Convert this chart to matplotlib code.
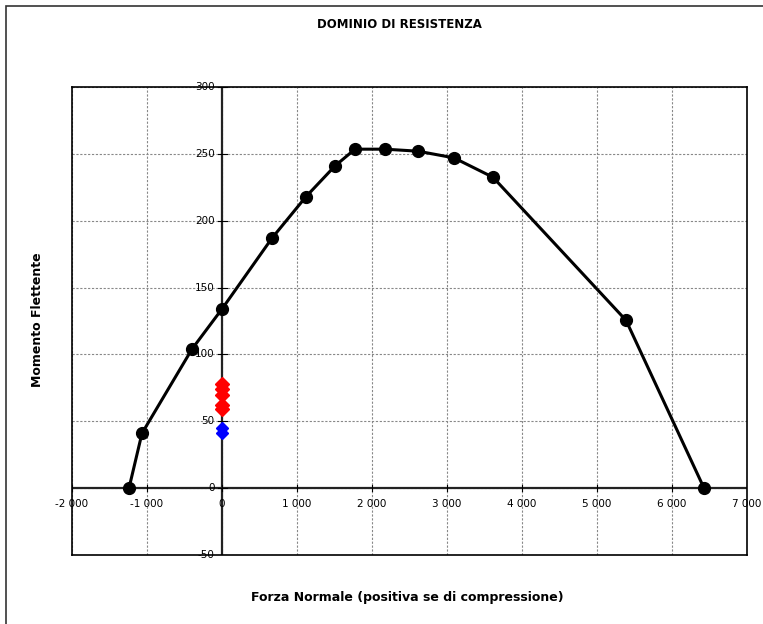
import matplotlib
matplotlib.use("Agg")
import matplotlib.pyplot as plt
from matplotlib.patches import Rectangle

# Domain curve (N, M)
dom_N = [-1240, -1067, -400, 0, 667, 1120, 1507, 1773, 2173, 2613, 3093, 3613, 5387, 6427]
dom_M = [0, 41, 104, 134, 187, 218, 241, 253.5, 253.5, 252, 247, 232.5, 125.5, 0]

# Load points
red_N = [0, 0, 0, 0, 0]
red_M = [78, 74, 70, 62, 59]
blue_N = [0, 0]
blue_M = [45, 41]

x_ticks = [-2000, -1000, 0, 1000, 2000, 3000, 4000, 5000, 6000, 7000]
y_ticks = [-50, 0, 50, 100, 150, 200, 250, 300]

fig = plt.figure(figsize=(7.63, 6.24), dpi=100)
W, H = 763, 624
ax = fig.add_axes([72 / W, 1 - 555 / H, (747 - 72) / W, (555 - 87) / H])

# outer chart frame
fig.patches.append(Rectangle((6 / W, -0.1), 1.2, 1 - 6 / H + 0.1, transform=fig.transFigure,
                             fill=False, edgecolor="#333333", linewidth=1.2))

ax.set_xlim(-2000, 7000)
ax.set_ylim(-50, 300)
ax.set_xticks(x_ticks)
ax.set_yticks(y_ticks)
ax.grid(True, color="#888888", linestyle=(0, (2, 1.5)), linewidth=0.8)
ax.set_axisbelow(True)

for s in ["top", "right", "bottom", "left"]:
    ax.spines[s].set_linewidth(1.2)
    ax.spines[s].set_color("black")

# axes through origin
ax.axhline(0, color="#222222", linewidth=1.6, zorder=1.5)
ax.axvline(0, color="#222222", linewidth=1.6, zorder=1.5)

ax.tick_params(left=False, bottom=False, labelleft=False, labelbottom=False)

fmt = lambda v: f"{int(v):,}".replace(",", " ")
for xv in x_ticks:
    ax.text(xv, -8, fmt(xv), ha="center", va="top", fontsize=7.5, family="DejaVu Sans")
    ax.plot([xv, xv], [-2, 2], color="black", lw=0.8, zorder=1.6)
for yv in y_ticks:
    ax.text(-100, yv, fmt(yv), ha="right", va="center", fontsize=7.5, family="DejaVu Sans")
    ax.plot([-60, 60], [yv, yv], color="black", lw=0.8, zorder=1.6)

ax.plot(dom_N, dom_M, color="black", lw=2.2, marker="o", markersize=8.5, zorder=3)
ax.plot(red_N, red_M, linestyle="none", marker="D", color="red", markersize=7.5, zorder=4)
ax.plot(blue_N, blue_M, linestyle="none", marker="D", color="blue", markersize=6.5, zorder=4)

fig.text(399 / W, 1 - 24 / H, "DOMINIO DI RESISTENZA", ha="center", va="center",
         fontsize=8.5, fontweight="bold", family="DejaVu Sans")
fig.text(38 / W, 1 - 320 / H, "Momento Flettente", ha="center", va="center", rotation=90,
         fontsize=9, fontweight="bold", family="DejaVu Sans")
fig.text(407 / W, 1 - 597 / H, "Forza Normale (positiva se di compressione)", ha="center",
         va="center", fontsize=9, fontweight="bold", family="DejaVu Sans")

fig.savefig("out.png", dpi=100)
